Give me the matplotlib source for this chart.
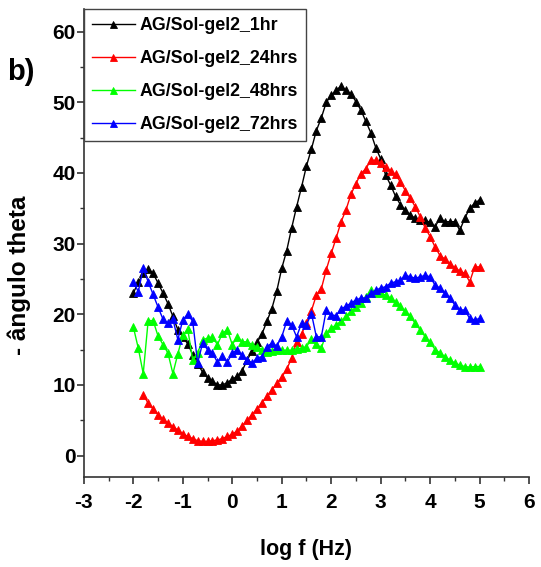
import numpy as np
import matplotlib
matplotlib.use("Agg")
import matplotlib.pyplot as plt

# log f grid (Hz), one point per 0.1 decade
log_f = [-2.0, -1.9, -1.8, -1.7, -1.6, -1.5, -1.4, -1.3, -1.2, -1.1,
         -1.0, -0.9, -0.8, -0.7, -0.6, -0.5, -0.4, -0.3, -0.2, -0.1,
         0.0, 0.1, 0.2, 0.3, 0.4, 0.5, 0.6, 0.7, 0.8, 0.9,
         1.0, 1.1, 1.2, 1.3, 1.4, 1.5, 1.6, 1.7, 1.8, 1.9,
         2.0, 2.1, 2.2, 2.3, 2.4, 2.5, 2.6, 2.7, 2.8, 2.9,
         3.0, 3.1, 3.2, 3.3, 3.4, 3.5, 3.6, 3.7, 3.8, 3.9,
         4.0, 4.1, 4.2, 4.3, 4.4, 4.5, 4.6, 4.7, 4.8, 4.9, 5.0]

theta_1hr = [23.0, 24.5, 25.8, 26.4, 25.8, 24.4, 23.0, 21.5, 19.7, 17.8,
             16.8, 15.8, 14.3, 13.0, 11.8, 11.0, 10.5, 10.0, 10.0, 10.3,
             10.8, 11.2, 12.0, 13.5, 14.8, 16.0, 17.2, 19.0, 20.8, 23.3,
             26.5, 29.0, 32.2, 35.2, 38.0, 41.0, 43.4, 46.0, 47.8, 50.0,
             51.0, 51.7, 52.3, 51.7, 51.2, 50.1, 48.9, 47.3, 45.7, 43.6,
             42.0, 39.7, 38.3, 36.7, 35.5, 34.7, 34.0, 33.6, 33.3, 33.3,
             33.0, 32.4, 33.6, 33.1, 33.1, 33.1, 31.9, 33.6, 35.0, 35.7, 36.2]

# 24 hrs series starts at log f = -1.8
log_f_24 = log_f[2:]
theta_24hrs = [8.6, 7.4, 6.6, 5.8, 5.1, 4.6, 4.1, 3.6,
               3.1, 2.7, 2.4, 2.1, 2.0, 2.0, 2.1, 2.2, 2.4, 2.7,
               3.0, 3.5, 4.2, 5.0, 5.8, 6.6, 7.5, 8.4, 9.3, 10.2,
               11.1, 12.2, 13.8, 16.1, 17.2, 18.8, 20.5, 22.7, 23.6, 26.3,
               28.6, 30.8, 33.1, 34.8, 37.0, 38.5, 39.9, 40.6, 41.8, 41.8,
               41.4, 40.8, 40.3, 39.8, 38.7, 37.5, 36.4, 35.2, 33.8, 32.2,
               31.0, 29.5, 28.3, 27.8, 27.1, 26.6, 26.1, 25.8, 24.6, 26.7, 26.7]

theta_48hrs = [18.2, 15.2, 11.6, 19.1, 19.1, 16.9, 15.7, 14.5, 11.6, 14.4,
               17.0, 17.9, 13.5, 14.5, 16.4, 16.6, 16.8, 15.7, 17.3, 17.8,
               15.7, 16.8, 16.1, 16.1, 15.7, 15.4, 15.0, 14.7, 14.8, 14.9,
               14.9, 14.9, 14.9, 15.1, 15.2, 15.4, 16.5, 15.8, 15.2, 17.3,
               18.0, 18.5, 19.0, 19.7, 20.4, 21.0, 21.6, 22.4, 23.4, 23.0,
               23.0, 22.7, 22.3, 21.8, 21.1, 20.4, 19.7, 18.7, 17.8, 16.8,
               16.0, 15.0, 14.5, 14.0, 13.5, 13.1, 12.8, 12.6, 12.5, 12.6, 12.6]

theta_72hrs = [24.6, 23.2, 26.5, 24.6, 22.8, 21.0, 19.3, 18.7, 19.3, 16.4,
               19.2, 20.0, 19.0, 13.1, 15.9, 15.0, 14.5, 13.2, 14.1, 13.2,
               14.5, 15.0, 14.2, 13.5, 13.1, 13.8, 14.0, 15.4, 15.9, 15.5,
               16.8, 19.0, 18.5, 16.8, 18.7, 18.5, 20.1, 16.8, 16.8, 20.6,
               19.9, 19.8, 20.8, 21.1, 21.6, 22.0, 22.3, 22.3, 23.0, 23.4,
               23.7, 23.9, 24.4, 24.6, 24.8, 25.5, 25.3, 25.1, 25.3, 25.5,
               25.3, 24.1, 23.7, 23.0, 22.3, 21.3, 20.6, 20.6, 19.4, 19.2, 19.4]

series = [
    ("AG/Sol-gel2_1hr",   log_f,    theta_1hr,   "#000000"),
    ("AG/Sol-gel2_24hrs", log_f_24, theta_24hrs, "#ff0000"),
    ("AG/Sol-gel2_48hrs", log_f,    theta_48hrs, "#00ff00"),
    ("AG/Sol-gel2_72hrs", log_f,    theta_72hrs, "#0000ff"),
]

plt.rcParams["font.family"] = ["Liberation Sans", "DejaVu Sans"]
plt.rcParams["font.weight"] = "bold"
plt.rcParams["axes.unicode_minus"] = False   # plain hyphen like the original

fig = plt.figure(figsize=(5.41, 5.67), dpi=100)
ax = fig.add_axes([0.155, 0.158, 0.823, 0.826])

for label, x, y, color in series:
    ax.plot(x, y, color=color, lw=1.0, ls="-", marker="^", ms=6.3, mew=0.6,
            mec=color, mfc=color, label=label)

ax.set_xlim(-3, 6)
ax.set_ylim(-3.1, 63.2)
ax.set_xticks(np.arange(-3, 7, 1))
ax.set_xticks(np.arange(-2.5, 6, 1), minor=True)
ax.set_yticks(np.arange(0, 70, 10))
ax.set_yticks(np.arange(5, 65, 10), minor=True)

for side in ("top", "right"):
    ax.spines[side].set_visible(False)
for side in ("left", "bottom"):
    ax.spines[side].set_linewidth(1.2)
    ax.spines[side].set_color("#333333")

ax.tick_params(axis="x", which="major", pad=6)
ax.tick_params(axis="y", which="major", pad=1)
ax.tick_params(which="major", direction="out", length=5, width=1.2,
               labelsize=15, color="#333333")
ax.tick_params(which="minor", direction="out", length=3, width=1.0,
               color="#333333")
for lab in ax.get_xticklabels() + ax.get_yticklabels():
    lab.set_fontweight("bold")

ax.set_xlabel("log f (Hz)", fontsize=15.5, fontweight="bold")
ax.xaxis.set_label_coords(0.5, -0.132)
ax.set_ylabel("- ângulo theta", fontsize=17.5, fontweight="bold")
ax.yaxis.set_label_coords(-0.118, 0.432)

fig.text(0.014, 0.873, "b)", fontsize=21, fontweight="bold",
         ha="left", va="center")

leg = ax.legend(loc="upper left", bbox_to_anchor=(0.0, 1.0), borderaxespad=0,
                fancybox=False, framealpha=1, edgecolor="#444444",
                prop={"size": 12.8, "weight": "bold"}, handlelength=2.4,
                handletextpad=0.3, labelspacing=0.9, borderpad=0.45,
                markerscale=0.8)
leg.get_frame().set_linewidth(1.0)

fig.savefig("out.png", dpi=100)
